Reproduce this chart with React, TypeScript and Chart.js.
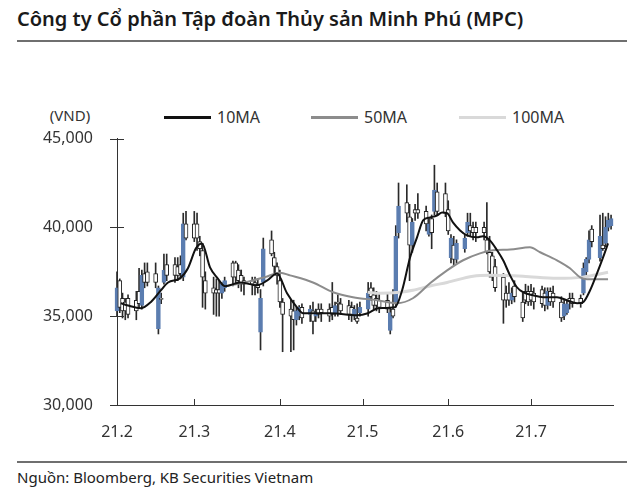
import React, { useEffect, useRef } from "react";
import { Chart, registerables } from "chart.js";

Chart.register(...registerables);

// ---- Data ----
const dates = [
  "02-01","02-02","02-03","02-04","02-05",
  "02-08","02-09","02-10","02-11","02-12",
  "02-15","02-16","02-17","02-18","02-19",
  "02-22","02-23","02-24","02-25","02-26",
  "03-01","03-02","03-03","03-04","03-05",
  "03-08","03-09","03-10","03-11","03-12",
  "03-15","03-16","03-17","03-18","03-19",
  "03-22","03-23","03-24","03-25","03-26",
  "03-29","03-30","03-31","04-01","04-02",
  "04-05","04-06","04-07","04-08","04-09",
  "04-12","04-13","04-14","04-15","04-16",
  "04-19","04-20","04-21","04-22","04-23",
  "04-26","04-27","04-28","04-29","04-30",
  "05-03","05-04","05-05","05-06","05-07",
  "05-10","05-11","05-12","05-13","05-14",
  "05-17","05-18","05-19","05-20","05-21",
  "05-24","05-25","05-26","05-27","05-28",
  "05-31","06-01","06-02","06-03","06-04",
  "06-07","06-08","06-09","06-10","06-11",
  "06-14","06-15","06-16","06-17","06-18",
  "06-21","06-22","06-23","06-24","06-25",
  "06-28","06-29","06-30","07-01","07-02",
  "07-05","07-06","07-07","07-08","07-09",
  "07-12","07-13","07-14","07-15","07-16",
  "07-19","07-20","07-21","07-22","07-23",
  "07-26","07-27","07-28","07-29","07-30",
];

const open = [
  35300,37000,36000,35800,36000,
  35900,36400,35600,37400,37500,
  37400,34300,36000,36900,37900,
  37900,37800,37900,37200,40200,
  40200,40200,39200,38700,37000,
  36600,36500,36500,36300,36600,
  38000,38000,37600,37300,37000,
  37000,36900,36800,34100,36900,
  39300,38300,37800,37000,35800,
  35400,35300,34800,35000,35500,
  35100,35300,35000,35400,35400,
  35400,35500,35200,35800,35700,
  35600,35500,35000,34900,35200,
  35400,36600,36200,36000,35900,
  35900,34200,35400,35800,39700,
  41400,40600,39000,41000,41000,
  40900,39600,40500,40900,42000,
  41900,41000,38300,39000,38200,
  38800,39700,40100,40000,40000,
  40000,39300,38600,38400,37800,
  37200,36300,36300,35900,36700,
  35800,36400,36400,36400,36300,
  36500,36300,35600,36400,36300,
  35800,35000,35200,36000,36000,
  36000,36300,37500,38200,39900,
  38300,39000,39100,40000,40100,
];

const high = [
  37500,37100,36300,36000,36200,
  36400,37700,37600,38000,38000,
  38000,36700,36300,38500,38500,
  38300,38300,38400,40800,40900,
  40900,40800,39500,39100,37500,
  37200,37100,37000,36900,37200,
  38100,38100,37900,37600,37200,
  37200,37200,37100,36500,39400,
  39800,38600,38000,37600,36000,
  35900,35900,35500,35600,35700,
  35600,35800,35400,35700,35700,
  35700,36900,35800,36200,36000,
  35900,35800,35600,35700,35800,
  36900,36900,36600,36400,36300,
  36300,35500,36500,40100,42500,
  42400,41300,40500,41300,41900,
  41200,40500,40700,43500,42500,
  42500,41500,39600,39500,39300,
  39600,40800,40800,40300,40300,
  40300,41400,39500,38600,38200,
  37400,36700,36900,36600,37000,
  36300,36800,36700,36800,36600,
  36700,36600,36600,36600,36700,
  36100,35900,35900,36300,36300,
  36200,38000,38300,39800,40100,
  40700,40800,40600,40800,40700,
];

const low = [
  35000,35200,34900,34800,34900,
  34800,35500,35400,36600,36700,
  36600,34000,35700,36800,37000,
  36900,37000,37100,37000,39300,
  39200,38700,38400,35500,35400,
  35100,35000,35000,36000,36400,
  36700,36800,36600,36400,36200,
  36200,36200,36300,33100,36700,
  38400,37400,36800,35500,33000,
  33000,33100,34500,34800,34600,
  34700,34000,34700,34900,34700,
  34700,34800,35000,35000,35100,
  34800,34700,34800,34600,35000,
  35000,35900,35400,35300,35200,
  35200,34000,34900,35500,39400,
  40300,37000,38600,40400,40500,
  39800,39500,38800,40700,40700,
  40600,39600,38000,37900,38000,
  38600,39500,39500,39300,39200,
  39300,38500,37200,37000,36400,
  34600,35500,35600,35700,35800,
  34700,35700,35600,35600,35400,
  35500,35300,35400,35600,35500,
  34700,34800,35100,35400,35500,
  35500,36200,37300,38000,38900,
  38100,38700,38900,39800,39900,
];

const close = [
  36600,35500,35300,35300,35100,
  35300,35700,37300,36900,36900,
  36900,36600,35950,37600,37300,
  37300,37300,37400,40200,39400,
  39400,39400,38800,37200,36300,
  36300,36300,36300,36800,37000,
  37200,37200,37000,36800,36800,
  36800,36700,36600,36000,38800,
  38500,37800,37300,35800,35100,
  35000,34800,35300,35500,34900,
  35400,34700,35200,35100,35200,
  35000,35100,35600,35700,35300,
  35100,35100,35400,34700,35500,
  36300,36100,35600,35600,35500,
  35400,35200,35000,39500,41200,
  40800,39000,40300,40800,40800,
  40200,40200,39700,42100,40900,
  40800,39800,39400,38200,39100,
  39400,40300,39800,39700,39700,
  39700,38600,37500,37200,36600,
  35900,35900,35900,36300,36100,
  34900,35900,35800,35900,35800,
  35700,35600,36400,35800,35800,
  34900,35700,35700,35800,35700,
  35700,37700,38200,39300,39200,
  39500,38800,40000,40400,40500,
];

// Moving averages (x = calendar days from 1 Feb 2021)
const ma10Days = [1.4, 4, 8.7, 12.3, 15.9, 18.5, 22.8, 25.7, 28.6, 30.8, 33.7, 36.2, 39.1, 44.6, 50.7, 54.3, 58, 61.6, 65.2, 67.4, 77.2, 87, 90.9, 94.6, 100.7, 103.3, 106.2, 108.7, 110.9, 113.4, 115.9, 117.8, 119.6, 121.7, 124.3, 126.8, 130.4, 132.6, 135.1, 137.7, 139.9, 142.4, 144.9, 147.1, 150.7, 154.3, 159.4, 163, 166.7, 168.8, 171.4, 173.9, 176.1, 177.9];
const ma10 = [35730, 35600, 35450, 35800, 36460, 36900, 37130, 37700, 38820, 39100, 37750, 37190, 36690, 36900, 36740, 37000, 37410, 36290, 35500, 35170, 35170, 35060, 35170, 35450, 35500, 36460, 38320, 39440, 40390, 40560, 40670, 40840, 40800, 40280, 39830, 39550, 39440, 39500, 39270, 38710, 38150, 37300, 36630, 36350, 36180, 36070, 36070, 35900, 35730, 35780, 36460, 37410, 38310, 39100];

const ma50Days = [39.1, 46.4, 53.6, 59.1, 62.7, 71, 78.3, 85.5, 94.2, 101.4, 107.2, 113.4, 119.6, 125.4, 131.5, 136.2, 142.4, 149.6, 153.3, 159.4, 164.1, 167.8, 170.3, 177.9];
const ma50 = [36700, 36900, 37200, 37450, 37300, 36900, 36350, 36070, 35900, 35730, 36010, 36850, 37580, 38150, 38540, 38710, 38750, 38880, 38600, 38150, 37700, 37190, 37080, 37080];

const ma100Days = [90.9, 95.3, 102.5, 107.2, 113.4, 119.6, 129, 135.1, 147.1, 159.4, 168.8, 177.9];
const ma100 = [36350, 36290, 36350, 36460, 36700, 36900, 37250, 37300, 37250, 37130, 37200, 37470];

const tickDays = [0, 28, 59, 89, 120, 150];
const tickLabels = ["21.2", "21.3", "21.4", "21.5", "21.6", "21.7"];
const yTicks = [30000, 35000, 40000, 45000];

const legendItems = ["10MA", "50MA", "100MA"];
const legendColors = ["#111111", "#8c8c8c", "#d9d9d9"];

// ---- Styling ----
const BLUE = "#5b7db0";
const FONT = '"Noto Sans", "DejaVu Sans", sans-serif';

function dayOf(md: string): number {
  const [m, d] = md.split("-").map(Number);
  return (Date.UTC(2021, m - 1, d) - Date.UTC(2021, 1, 1)) / 86400000;
}

const tickMarks = {
  id: "tickMarks",
  afterDraw(chart: any) {
    const { ctx, chartArea, scales } = chart;
    ctx.save();
    ctx.strokeStyle = "#333";
    ctx.lineWidth = 1;
    for (const v of yTicks) {
      const y = Math.round(scales.y.getPixelForValue(v)) + 0.5;
      ctx.beginPath();
      ctx.moveTo(chartArea.left - 7, y);
      ctx.lineTo(chartArea.left + 7, y);
      ctx.stroke();
    }
    for (const d of tickDays) {
      const x = Math.round(scales.x.getPixelForValue(d)) + 0.5;
      ctx.beginPath();
      ctx.moveTo(x, chartArea.bottom);
      ctx.lineTo(x, chartArea.bottom - 6);
      ctx.stroke();
    }
    ctx.restore();
  },
};

export default function App() {
  const canvasRef = useRef<HTMLCanvasElement>(null);

  useEffect(() => {
    document.body.style.margin = "0";
    const canvas = canvasRef.current;
    if (!canvas) return;
    const xs = dates.map(dayOf);
    const up = close.map((c, i) => c >= open[i]);

    const chart = new Chart(canvas, {
      type: "bar",
      data: {
        datasets: [
          {
            type: "line",
            label: "10MA",
            data: ma10Days.map((x, i) => ({ x, y: ma10[i] })),
            borderColor: legendColors[0],
            borderWidth: 2,
            pointRadius: 0,
            cubicInterpolationMode: "monotone",
            order: 0,
          },
          {
            type: "line",
            label: "50MA",
            data: ma50Days.map((x, i) => ({ x, y: ma50[i] })),
            borderColor: legendColors[1],
            borderWidth: 2,
            pointRadius: 0,
            cubicInterpolationMode: "monotone",
            order: 1,
          },
          {
            type: "line",
            label: "100MA",
            data: ma100Days.map((x, i) => ({ x, y: ma100[i] })),
            borderColor: legendColors[2],
            borderWidth: 3,
            pointRadius: 0,
            cubicInterpolationMode: "monotone",
            order: 2,
          },
          {
            type: "bar",
            label: "body",
            data: xs.map((x, i) => ({
              x,
              y: [Math.min(open[i], close[i]), Math.max(open[i], close[i])],
            })),
            backgroundColor: up.map((u) => (u ? BLUE : "#ffffff")),
            borderColor: up.map((u) => (u ? BLUE : "#222222")),
            borderWidth: 1,
            borderSkipped: false,
            barThickness: 4,
            grouped: false,
            clip: false,
            order: 3,
          } as any,
          {
            type: "bar",
            label: "wick",
            data: xs.map((x, i) => ({ x, y: [low[i], high[i]] })),
            backgroundColor: "#2a2a2a",
            barThickness: 1,
            grouped: false,
            clip: false,
            order: 4,
          } as any,
        ],
      },
      options: {
        animation: false,
        responsive: false,
        maintainAspectRatio: false,
        layout: { padding: { top: 13, right: 27, left: 0, bottom: 0 } },
        plugins: { legend: { display: false }, tooltip: { enabled: false } },
        scales: {
          x: {
            type: "linear",
            min: 0,
            max: 179.7,
            offset: false,
            grid: { display: false, drawTicks: false },
            border: { display: true, color: "#333", width: 1 },
            afterBuildTicks: (s: any) => {
              s.ticks = tickDays.map((v) => ({ value: v }));
            },
            afterFit: (s: any) => {
              s.height = 50;
            },
            ticks: {
              padding: 18,
              autoSkip: false,
              maxRotation: 0,
              color: "#333",
              font: { family: FONT, size: 16 },
              callback: (_v: any, i: number) => tickLabels[i],
            },
          },
          y: {
            min: 30000,
            max: 45000,
            grid: { display: false, drawTicks: false },
            border: { display: true, color: "#333", width: 1 },
            afterBuildTicks: (s: any) => {
              s.ticks = yTicks.map((v) => ({ value: v }));
            },
            afterFit: (s: any) => {
              s.width = 117;
            },
            ticks: {
              padding: 24,
              color: "#333",
              font: { family: FONT, size: 16 },
              callback: (v: any) => Number(v).toLocaleString("en-US"),
            },
          },
        },
      } as any,
      plugins: [tickMarks],
    });
    return () => chart.destroy();
  }, []);

  const legendLeft = [164, 311, 459];

  return (
    <div
      style={{
        position: "relative",
        width: 640,
        height: 491,
        background: "#fff",
        fontFamily: FONT,
        color: "#222",
        overflow: "hidden",
      }}
    >
      <div
        style={{
          position: "absolute",
          left: 17,
          top: 7,
          fontSize: 20,
          fontWeight: 600,
          lineHeight: "24px",
          whiteSpace: "nowrap",
          color: "#1a1a1a",
        }}
      >
        Công ty Cổ phần Tập đoàn Thủy sản Minh Phú (MPC)
      </div>
      <div
        style={{
          position: "absolute",
          left: 17,
          top: 40,
          width: 610,
          height: 2,
          background: "#6f6f6f",
        }}
      />
      <div
        style={{
          position: "absolute",
          left: 40,
          width: 60,
          top: 104,
          textAlign: "center",
          fontSize: 15,
          lineHeight: "22px",
          color: "#333",
        }}
      >
        (VND)
      </div>
      {legendItems.map((t, i) => (
        <div
          key={t}
          style={{
            position: "absolute",
            left: legendLeft[i],
            top: 106,
            height: 22,
            display: "flex",
            alignItems: "center",
            fontSize: 16,
            color: "#333",
            whiteSpace: "nowrap",
          }}
        >
          <span
            style={{
              display: "inline-block",
              width: 47,
              height: 3,
              background: legendColors[i],
              marginRight: 6,
            }}
          />
          {t}
        </div>
      ))}
      <canvas
        ref={canvasRef}
        width={640}
        height={350}
        style={{ position: "absolute", left: 0, top: 105, width: 640, height: 350 }}
      />
      <div
        style={{
          position: "absolute",
          left: 17,
          top: 461,
          width: 610,
          height: 1.5,
          background: "#6f6f6f",
        }}
      />
      <div
        style={{
          position: "absolute",
          left: 17,
          top: 466,
          fontSize: 15,
          lineHeight: "22px",
          color: "#222",
          whiteSpace: "nowrap",
        }}
      >
        Nguồn: Bloomberg, KB Securities Vietnam
      </div>
    </div>
  );
}
